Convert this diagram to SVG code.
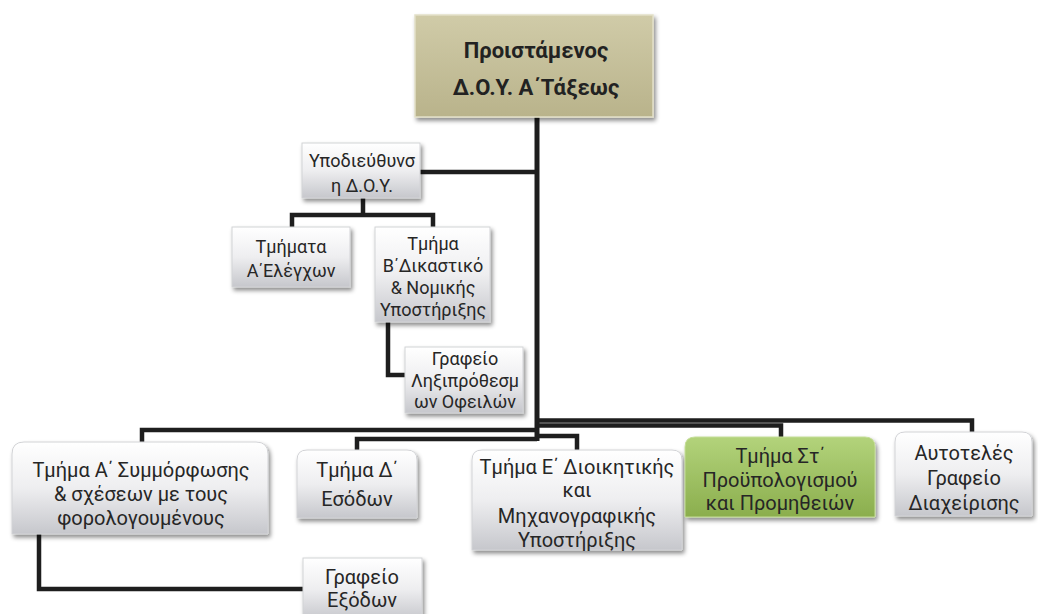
<svg xmlns="http://www.w3.org/2000/svg" width="1038" height="614" viewBox="0 0 1038 614">
<defs>
<linearGradient id="gGray" x1="0" y1="0" x2="0" y2="1">
<stop offset="0" stop-color="#ffffff"/>
<stop offset="0.5" stop-color="#eeeef0"/>
<stop offset="1" stop-color="#c6c7cc"/>
</linearGradient>
<linearGradient id="gKhaki" x1="0" y1="0" x2="0" y2="1">
<stop offset="0" stop-color="#d0cba8"/>
<stop offset="1" stop-color="#b9b38b"/>
</linearGradient>
<linearGradient id="gGreen" x1="0" y1="0" x2="0" y2="1">
<stop offset="0" stop-color="#b3d37b"/>
<stop offset="1" stop-color="#8bae4d"/>
</linearGradient>
<filter id="sh" x="-10%" y="-10%" width="125%" height="135%">
<feDropShadow dx="2" dy="3" stdDeviation="2" flood-color="#000" flood-opacity="0.45"/>
</filter>
</defs>
<style>
.box{fill:url(#gGray);stroke:#d2d3d6;stroke-width:1;filter:url(#sh)}
.khaki{fill:url(#gKhaki);stroke:#e2dfc8;stroke-width:1.5;filter:url(#sh)}
.green{fill:url(#gGreen);stroke:#c4dd98;stroke-width:1;filter:url(#sh)}
text{font-family:Roboto,"Noto Sans",sans-serif;fill:#262626;text-anchor:middle}
.t1{font-size:22px;font-weight:bold;fill:#222}
.t2{font-size:18px}
.t3{font-size:20px}
.conn path{fill:none;stroke:#1e1e1e;stroke-width:4.5;stroke-linejoin:miter}
</style>
<g class="conn" id="connectors">
<path d="M537,117 V441" style="stroke-width:5"/>
<path d="M420,172 H537"/>
<path d="M363,198 V215 M292,228 V215 H433 V228"/>
<path d="M388,322 V375 H405"/>
<path d="M537,420.5 H972 V432"/>
<path d="M537,425.5 H781 V437"/>
<path d="M537,430 H142 V442"/>
<path d="M537,439 H357 V450"/>
<path d="M537,436 H577 V450"/>
<path d="M39,530 V589 H303"/>
</g>
<g id="n-proistamenos">
<rect class="khaki" x="415" y="15" width="238" height="102"/>
<text class="t1" x="536" y="58">Προιστάμενος</text>
<text class="t1" x="536" y="95">Δ.Ο.Υ. Α΄Τάξεως</text>
</g>
<g id="n-ypodieythynsi">
<rect class="box" x="302" y="143" width="118" height="55"/>
<text class="t2" x="362" y="167">Υποδιεύθυνσ</text>
<text class="t2" x="362" y="192">η Δ.Ο.Υ.</text>
</g>
<g id="n-elegxon">
<rect class="box" x="232" y="227" width="118" height="60"/>
<text class="t2" x="291" y="253">Τμήματα</text>
<text class="t2" x="291" y="277">Α΄Ελέγχων</text>
</g>
<g id="n-dikastiko">
<rect class="box" x="375" y="227" width="115" height="95"/>
<text class="t2" x="433" y="250">Τμήμα</text>
<text class="t2" x="433" y="272">Β΄Δικαστικό</text>
<text class="t2" x="433" y="294">&amp; Νομικής</text>
<text class="t2" x="433" y="316">Υποστήριξης</text>
</g>
<g id="n-lixiprothesmon">
<rect class="box" x="405" y="347" width="118" height="66"/>
<text class="t2" x="465" y="365">Γραφείο</text>
<text class="t2" x="465" y="387">Ληξιπρόθεσμ</text>
<text class="t2" x="465" y="408">ων Οφειλών</text>
</g>
<g id="n-symmorfosis">
<path class="box" d="M12,534 V454 Q12,442 24,442 H256 Q268,442 268,454 V534 Z"/>
<text class="t3" x="141" y="477">Τμήμα  Α΄ Συμμόρφωσης</text>
<text class="t3" x="141" y="501">&amp; σχέσεων με τους</text>
<text class="t3" x="141" y="525">φορολογουμένους</text>
</g>
<g id="n-esodon">
<path class="box" d="M297,518 V460 Q297,450 307,450 H407 Q417,450 417,460 V518 Z"/>
<text class="t3" x="357" y="477">Τμήμα  Δ΄</text>
<text class="t3" x="357" y="506">Εσόδων</text>
</g>
<g id="n-dioikitikis">
<path class="box" d="M472,550 V460 Q472,450 482,450 H672 Q682,450 682,460 V550 Z"/>
<text class="t3" x="577" y="474">Τμήμα Ε΄ Διοικητικής</text>
<text class="t3" x="577" y="497">και</text>
<text class="t3" x="577" y="523">Μηχανογραφικής</text>
<text class="t3" x="577" y="547">Υποστήριξης</text>
</g>
<g id="n-proypologismou">
<path class="green" d="M685,517 V447 Q685,437 695,437 H865 Q875,437 875,447 V517 Z"/>
<text class="t3" x="780" y="463">Τμήμα Στ΄</text>
<text class="t3" x="780" y="487">Προϋπολογισμού</text>
<text class="t3" x="780" y="510">και Προμηθειών</text>
</g>
<g id="n-autoteles">
<path class="box" d="M895,516 V442 Q895,432 905,432 H1022 Q1032,432 1032,442 V516 Z"/>
<text class="t3" x="964" y="460">Αυτοτελές</text>
<text class="t3" x="964" y="485">Γραφείο</text>
<text class="t3" x="964" y="510">Διαχείρισης</text>
</g>
<g id="n-exodon">
<rect class="box" x="303" y="558" width="119" height="62"/>
<text class="t3" x="362" y="584">Γραφείο</text>
<text class="t3" x="362" y="607">Εξόδων</text>
</g>
</svg>
